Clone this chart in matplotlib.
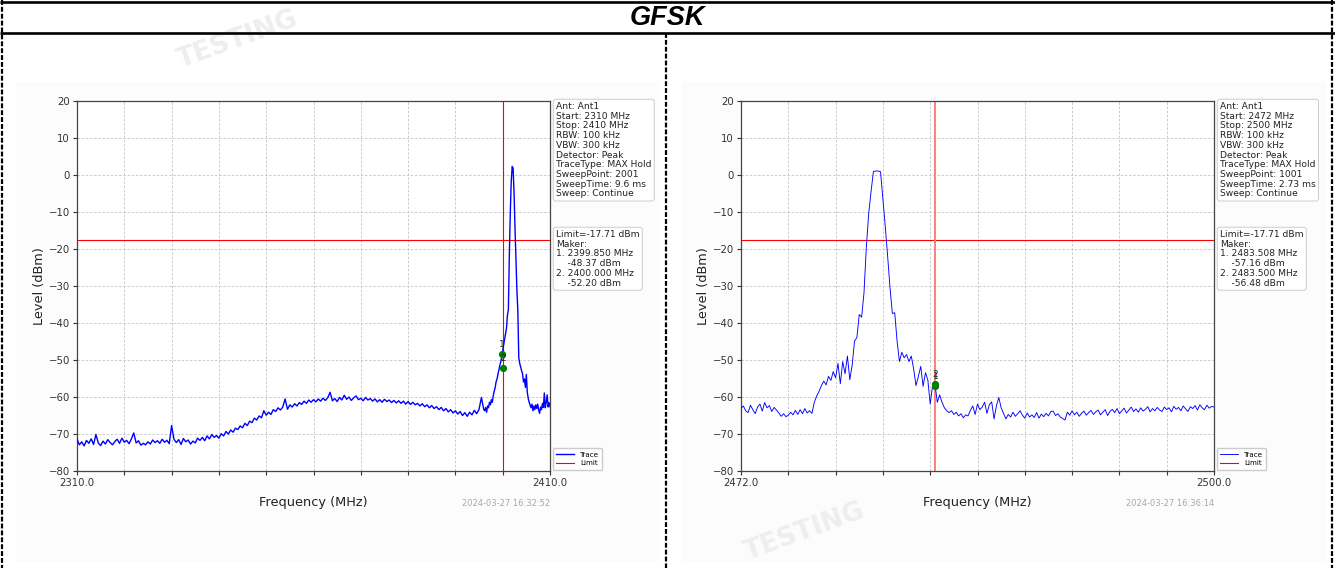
import numpy as np
import matplotlib
matplotlib.use("Agg")
import matplotlib.pyplot as plt
from matplotlib.patches import Rectangle
from matplotlib.lines import Line2D

W, H = 1335, 568

title = "GFSK"
limit_dbm = -17.71
y_ticks = [-80, -70, -60, -50, -40, -30, -20, -10, 0, 10, 20]

# ---- low band edge sweep: 2310-2410 MHz ----
left_start, left_stop = 2310.0, 2410.0
left_coarse_start, left_coarse_step = 2310.0, 0.5
left_coarse_dbm = [
    -71.5, -73.0, -72.2, -73.3, -71.8, -72.6, -71.4, -72.9, -70.2, -72.5,
    -73.2, -72.0, -72.8, -71.6, -72.4, -73.0, -72.1, -71.5, -72.6, -71.2,
    -72.3, -71.8, -72.7, -71.4, -69.8, -72.5, -71.9, -73.1, -72.6, -73.0,
    -72.2, -72.8, -71.7, -72.4, -71.9, -72.6, -71.5, -72.3, -71.8, -72.7,
    -67.8, -71.5, -72.4, -71.6, -72.9, -71.3, -72.2, -71.7, -72.8, -72.0,
    -72.5, -71.2, -71.8, -71.0, -71.9, -70.6, -71.4, -70.2, -71.0, -70.5,
    -71.2, -70.0, -70.6, -69.4, -70.1, -69.0, -69.6, -68.5, -68.9, -67.9,
    -68.4, -67.2, -67.8, -66.6, -67.0, -65.8, -66.3, -65.2, -65.7, -63.8,
    -65.0, -64.2, -64.8, -63.5, -64.0, -63.0, -63.6, -62.8, -60.6, -63.4,
    -62.2, -62.8, -61.9, -62.5, -61.6, -62.1, -61.2, -61.8, -60.9, -61.5,
    -60.8, -61.4, -60.6, -61.2, -60.4, -61.0, -60.3, -58.8, -61.1, -60.5,
    -61.3, -60.2, -60.9, -59.6, -60.7, -60.1, -61.0, -60.3, -59.8, -60.8,
    -60.4, -61.1, -60.2, -60.9, -60.5, -61.2, -60.6, -61.4, -60.8, -61.5,
    -60.7, -61.3, -60.9, -61.6, -61.0, -61.7, -61.1, -61.8, -61.2, -62.0,
    -61.3, -62.1, -61.5, -62.2, -61.8, -62.5, -61.9, -62.7, -62.2, -63.0,
    -62.4, -63.2, -62.7, -63.5, -62.9, -63.8, -63.2, -64.1, -63.5, -64.4,
    -63.8, -64.7, -64.0, -65.1, -64.3, -65.3, -64.2, -64.9, -63.7, -64.6,
    -63.4, -60.2, -63.5,
]
left_fine_start, left_fine_step = 2396.2, 0.2
left_fine_dbm = [
    -63.8, -62.9, -64.2, -62.5, -63.0, -61.5, -62.2, -60.8, -61.5, -59.8,
    -58.5, -57.6, -56.0, -55.2, -54.0, -52.8, -51.5, -50.6, -49.2, -47.5,
    -46.0, -44.5, -43.0, -41.5, -38.0, -36.5, -22.0, -10.5, -2.0, 2.2,
    1.8, -5.0, -14.5, -22.5, -31.0, -36.8, -49.5, -51.0, -52.0, -53.0,
    -53.8, -56.0, -55.2, -57.5, -54.0, -58.8, -60.5, -61.5, -62.3, -63.0,
    -62.0, -63.8, -62.5, -63.5, -62.2, -63.2, -62.0, -63.6, -64.5, -62.8,
    -63.5, -61.8, -62.9, -59.0, -63.0, -61.5, -59.5, -62.8, -61.6, -62.7,
]
left_marker_mhz = [2399.850, 2400.000]
left_marker_dbm = [-48.37, -52.20]
left_info = ["Ant: Ant1", "Start: 2310 MHz", "Stop: 2410 MHz", "RBW: 100 kHz",
             "VBW: 300 kHz", "Detector: Peak", "TraceType: MAX Hold",
             "SweepPoint: 2001", "SweepTime: 9.6 ms", "Sweep: Continue"]
left_stamp = "2024-03-27 16:32:52"

# ---- high band edge sweep: 2472-2500 MHz ----
right_start, right_stop = 2472.0, 2500.0
right_dbm = [
    -63.2, -62.5, -63.8, -64.3, -62.3, -63.5, -64.6, -62.8, -62.0, -63.9,
    -61.6, -63.0, -62.4, -64.0, -62.9, -63.6, -64.4, -65.3, -64.6, -65.4,
    -65.0, -64.2, -64.9, -63.7, -64.8, -63.5, -64.6, -63.2, -64.4, -63.8,
    -64.5, -61.5, -59.8, -58.6, -57.0, -55.8, -56.8, -54.5, -55.6, -53.2,
    -54.9, -51.0, -56.5, -50.5, -53.8, -49.0, -55.4, -51.5, -45.0, -44.0,
    -37.8, -38.5, -32.0, -19.5, -10.5, -4.5, 0.9, 1.0, 1.0, 0.8,
    -6.5, -14.0, -22.0, -30.5, -37.5, -37.3, -45.0, -50.5, -48.0, -49.5,
    -48.6, -50.5, -49.0, -52.5, -57.0, -54.5, -51.8, -57.2, -53.5, -55.5,
    -62.0, -57.0, -56.5, -61.5, -59.5, -61.5, -63.0, -63.8, -64.3, -63.8,
    -64.8, -64.2, -65.2, -64.6, -65.7, -64.9, -65.2, -63.7, -62.5, -64.8,
    -62.0, -63.5, -62.8, -61.5, -64.5, -62.2, -61.4, -66.0, -62.5, -60.2,
    -63.0, -64.5, -66.0, -64.8, -65.5, -64.2, -65.3, -64.6, -63.8, -65.0,
    -65.8, -64.4, -65.5, -64.9, -65.6, -64.3, -65.8, -64.7, -65.4, -64.5,
    -65.2, -64.0, -63.9, -65.1, -64.6, -65.5, -65.9, -66.3, -64.2, -65.0,
    -63.8, -64.9, -64.2, -65.3, -64.5, -63.9, -65.0, -64.3, -63.7, -64.8,
    -64.1, -63.6, -64.9, -64.2, -63.5, -65.1, -64.0, -63.4, -64.3, -63.2,
    -64.6, -63.8, -63.1, -64.4, -63.6, -62.8, -64.0, -63.3, -64.2, -63.0,
    -63.9, -63.4, -62.7, -64.1, -63.2, -63.8, -62.9, -63.6, -64.0, -62.8,
    -63.5, -63.0, -64.1, -62.6, -63.4, -62.9, -63.8, -62.5, -63.3, -64.0,
    -62.7, -63.2, -62.4, -63.6, -62.2, -63.0, -63.5, -62.3, -63.1, -62.6,
    -62.8,
]
right_marker_mhz = [2483.508, 2483.500]
right_marker_dbm = [-57.16, -56.48]
right_info = ["Ant: Ant1", "Start: 2472 MHz", "Stop: 2500 MHz", "RBW: 100 kHz",
              "VBW: 300 kHz", "Detector: Peak", "TraceType: MAX Hold",
              "SweepPoint: 1001", "SweepTime: 2.73 ms", "Sweep: Continue"]
right_stamp = "2024-03-27 16:36:14"

# ---- sweep frequency grids ----
left_freq = np.concatenate([
    left_coarse_start + left_coarse_step * np.arange(len(left_coarse_dbm)),
    left_fine_start + left_fine_step * np.arange(len(left_fine_dbm)),
])
left_level = np.array(left_coarse_dbm + left_fine_dbm)
right_freq = np.linspace(right_start, right_stop, len(right_dbm))
right_level = np.array(right_dbm)


def rect(x0, y0, x1, y1):
    return [x0 / W, 1 - y1 / H, (x1 - x0) / W, (y1 - y0) / H]


fig = plt.figure(figsize=(W / 100, H / 100), dpi=100, facecolor="white")

# page frame in pixel coordinates
frame = fig.add_axes([0, 0, 1, 1])
frame.set_xlim(0, W)
frame.set_ylim(H, 0)
frame.axis("off")

for x0 in (16, 682):
    frame.add_patch(Rectangle((x0, 82), 644, 480, facecolor="#fcfcfc",
                              edgecolor="none", zorder=0))

wm = dict(color="#eeeeee", fontsize=19, fontweight="bold", rotation=20,
          ha="center", va="center", zorder=0.5, family="DejaVu Sans")
frame.text(238, 40, "TESTING", **wm)
frame.text(805, 532, "TESTING", **wm)

solid = dict(color="black", lw=1.9, solid_capstyle="butt", zorder=5)
dashed = dict(color="black", lw=1.6, linestyle=(0, (2.2, 0.9)), zorder=5)
frame.add_line(Line2D([0, W], [2, 2], **solid))
frame.add_line(Line2D([0, W], [33, 33], **solid))
frame.add_line(Line2D([2, 2], [0, H], **dashed))
frame.add_line(Line2D([1332, 1332], [0, H], **dashed))
frame.add_line(Line2D([666, 666], [33, H], **dashed))
frame.text(667, 18, title, ha="center", va="center", fontsize=19.5,
           fontweight="bold", fontstyle="italic", family="Liberation Sans",
           zorder=6)


def panel(x0, freq, level, start, stop, m_mhz, m_dbm, info, stamp,
          trace_lw, vline_kw):
    ax = fig.add_axes(rect(x0, 100.7, x0 + 473, 470.7))
    ax.set_facecolor("white")
    ax.plot(freq, level, color="blue", lw=trace_lw, label="Trace", zorder=3)
    ax.axhline(limit_dbm, color="red", lw=0.8, label="Limit", zorder=2)
    ax.axvline(m_mhz[-1], zorder=2, **vline_kw)
    for k, (f, v) in enumerate(zip(m_mhz, m_dbm), start=1):
        ax.plot([f], [v], "o", color="green", ms=4.2, zorder=4)
        ax.annotate(str(k), (f, v), xytext=(0, 3.5), textcoords="offset points",
                    ha="center", va="bottom", fontsize=6.5, color="#222222",
                    zorder=5)
    ax.set_xlim(start, stop)
    ax.set_ylim(-80, 20)
    xt = np.linspace(start, stop, 11)
    ax.set_xticks(xt)
    ax.set_xticklabels([f"{start:.1f}"] + [""] * 9 + [f"{stop:.1f}"])
    ax.set_yticks(y_ticks)
    ax.tick_params(labelsize=7.3, colors="#333333", length=3, width=0.8,
                   pad=2)
    ax.grid(True, color="#c4c4c4", lw=0.6, linestyle=(0, (3, 2)))
    for s in ax.spines.values():
        s.set_color("#444444")
        s.set_linewidth(0.9)
    ax.set_xlabel("Frequency (MHz)", fontsize=9.3, color="#222222", labelpad=6)
    ax.set_ylabel("Level (dBm)", fontsize=9.3, color="#222222", labelpad=2)

    box = dict(boxstyle="round,pad=0.3", fc="white", ec="#cccccc", lw=0.7)
    tx = x0 + 479
    frame.text(tx, 102, "\n".join(info), ha="left", va="top", fontsize=6.6,
               linespacing=1.1, color="#222222", bbox=box, zorder=6)
    marker_lines = [f"Limit={limit_dbm:.2f} dBm", "Maker:"]
    for k, (f, v) in enumerate(zip(m_mhz, m_dbm), start=1):
        marker_lines.append(f"{k}. {f:.3f} MHz")
        marker_lines.append(f"    {v:.2f} dBm")
    frame.text(tx, 230, "\n".join(marker_lines), ha="left", va="top",
               fontsize=6.6, linespacing=1.1, color="#222222", bbox=box,
               zorder=6)
    ax.legend(loc="lower left", bbox_to_anchor=(1.006, 0.003), borderaxespad=0,
              fontsize=5.1, handlelength=2.6, framealpha=1, edgecolor="#cccccc",
              fancybox=True, borderpad=0.45, labelspacing=0.4)
    frame.text(x0 + 473, 503, stamp, ha="right", va="center", fontsize=6,
               color="#a8a8a8", zorder=6)
    return ax


panel(77, left_freq, left_level, left_start, left_stop, left_marker_mhz,
      left_marker_dbm, left_info, left_stamp, 1.0,
      dict(color="red", lw=0.8))
panel(741, right_freq, right_level, right_start, right_stop, right_marker_mhz,
      right_marker_dbm, right_info, right_stamp, 0.65,
      dict(color="#ff7f7f", lw=1.4))

fig.savefig("out.png", dpi=100, facecolor="white")
